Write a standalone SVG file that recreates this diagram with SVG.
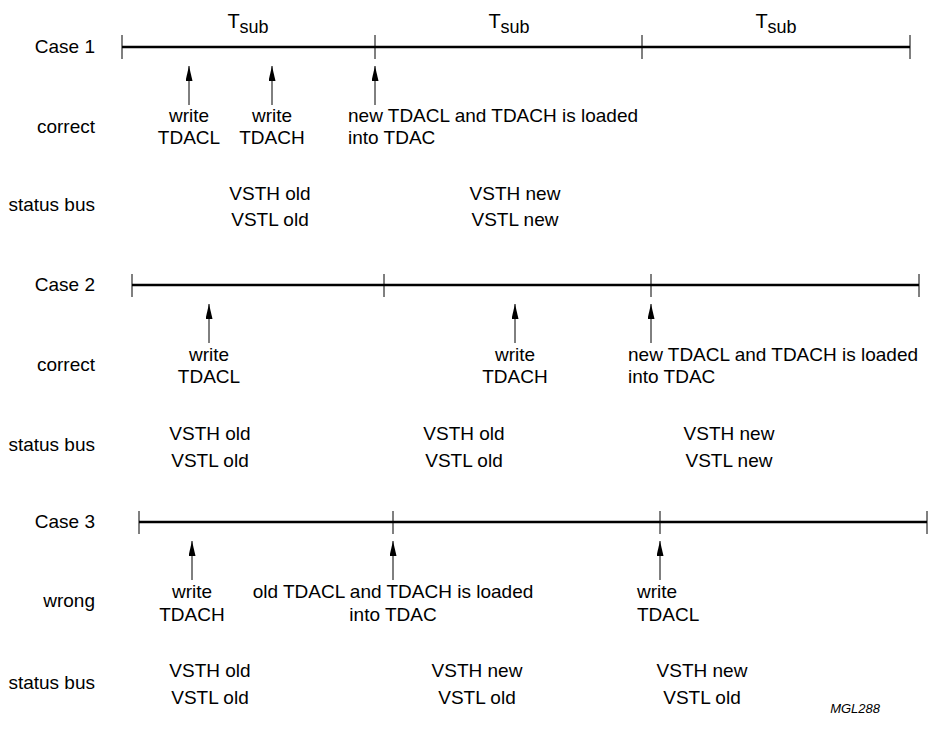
<svg xmlns="http://www.w3.org/2000/svg" width="931" height="733" viewBox="0 0 931 733">
<style>
text{font-family:"Liberation Sans",Arial,sans-serif;font-size:19px;fill:#000}
.e{text-anchor:end}.m{text-anchor:middle}
.axis{stroke:#000;stroke-width:2.5;fill:none}
.tick{stroke:#000;stroke-width:1;fill:none}
.arr{stroke:#000;stroke-width:1;fill:none;marker-end:url(#ah)}
.t{font-size:20px}
.sub{font-size:18px}
.ref{font-size:13px;font-style:italic}
</style>
<defs>
<marker id="ah" viewBox="0 0 15 7" refX="15" refY="3.5" markerWidth="15" markerHeight="7" markerUnits="userSpaceOnUse" orient="auto">
<path d="M0,0 L15,3.5 L0,7 Z" fill="#000"/>
</marker>
</defs>
<g id="tsub-labels">
<text x="248" y="28" class="m t">T<tspan class="sub" dy="5">sub</tspan></text>
<text x="509" y="28" class="m t">T<tspan class="sub" dy="5">sub</tspan></text>
<text x="776" y="28" class="m t">T<tspan class="sub" dy="5">sub</tspan></text>
</g>
<g id="case1">
<text x="95" y="53" class="e">Case 1</text>
<line class="axis" x1="122" y1="47" x2="910" y2="47"/>
<line class="tick" x1="122" y1="35" x2="122" y2="59"/>
<line class="tick" x1="375" y1="35" x2="375" y2="59"/>
<line class="tick" x1="642" y1="35" x2="642" y2="59"/>
<line class="tick" x1="910" y1="35" x2="910" y2="59"/>
<text x="95" y="133" class="e">correct</text>
<text x="189" y="122" class="m">write</text><text x="189" y="144" class="m">TDACL</text>
<text x="272" y="122" class="m">write</text><text x="272" y="144" class="m">TDACH</text>
<text x="348" y="122">new TDACL and TDACH is loaded</text><text x="348" y="144">into TDAC</text>
<text x="95" y="211" class="e">status bus</text>
<text x="270" y="200" class="m">VSTH old</text><text x="270" y="226" class="m">VSTL old</text>
<text x="515" y="200" class="m">VSTH new</text><text x="515" y="226" class="m">VSTL new</text>
</g>
<g id="case2">
<text x="95" y="291" class="e">Case 2</text>
<line class="axis" x1="132" y1="285" x2="919" y2="285"/>
<line class="tick" x1="132" y1="274" x2="132" y2="297"/>
<line class="tick" x1="384" y1="274" x2="384" y2="297"/>
<line class="tick" x1="651" y1="274" x2="651" y2="297"/>
<line class="tick" x1="919" y1="274" x2="919" y2="297"/>
<text x="95" y="371" class="e">correct</text>
<text x="209" y="361" class="m">write</text><text x="209" y="383" class="m">TDACL</text>
<text x="515" y="361" class="m">write</text><text x="515" y="383" class="m">TDACH</text>
<text x="628" y="361">new TDACL and TDACH is loaded</text><text x="628" y="383">into TDAC</text>
<text x="95" y="451" class="e">status bus</text>
<text x="210" y="440" class="m">VSTH old</text><text x="210" y="467" class="m">VSTL old</text>
<text x="464" y="440" class="m">VSTH old</text><text x="464" y="467" class="m">VSTL old</text>
<text x="729" y="440" class="m">VSTH new</text><text x="729" y="467" class="m">VSTL new</text>
</g>
<g id="case3">
<text x="95" y="528" class="e">Case 3</text>
<line class="axis" x1="139" y1="522" x2="927" y2="522"/>
<line class="tick" x1="139" y1="511" x2="139" y2="534"/>
<line class="tick" x1="393" y1="511" x2="393" y2="534"/>
<line class="tick" x1="660" y1="511" x2="660" y2="534"/>
<line class="tick" x1="927" y1="511" x2="927" y2="534"/>
<text x="95" y="607" class="e">wrong</text>
<text x="192" y="598" class="m">write</text><text x="192" y="621" class="m">TDACH</text>
<text x="393" y="598" class="m">old TDACL and TDACH is loaded</text><text x="393" y="621" class="m">into TDAC</text>
<text x="637" y="598">write</text><text x="637" y="621">TDACL</text>
<text x="95" y="689" class="e">status bus</text>
<text x="210" y="677" class="m">VSTH old</text><text x="210" y="704" class="m">VSTL old</text>
<text x="477" y="677" class="m">VSTH new</text><text x="477" y="704" class="m">VSTL old</text>
<text x="702" y="677" class="m">VSTH new</text><text x="702" y="704" class="m">VSTL old</text>
</g>
<g id="connectors">
<line class="arr" x1="189" y1="105" x2="189" y2="66"/>
<line class="arr" x1="272" y1="105" x2="272" y2="66"/>
<line class="arr" x1="375" y1="105" x2="375" y2="66"/>
<line class="arr" x1="209" y1="343" x2="209" y2="304"/>
<line class="arr" x1="515" y1="343" x2="515" y2="304"/>
<line class="arr" x1="651" y1="343" x2="651" y2="304"/>
<line class="arr" x1="192" y1="580" x2="192" y2="541"/>
<line class="arr" x1="393" y1="580" x2="393" y2="541"/>
<line class="arr" x1="660" y1="580" x2="660" y2="541"/>
</g>
<g id="ref"><text x="880" y="713" class="e ref">MGL288</text></g>
</svg>
